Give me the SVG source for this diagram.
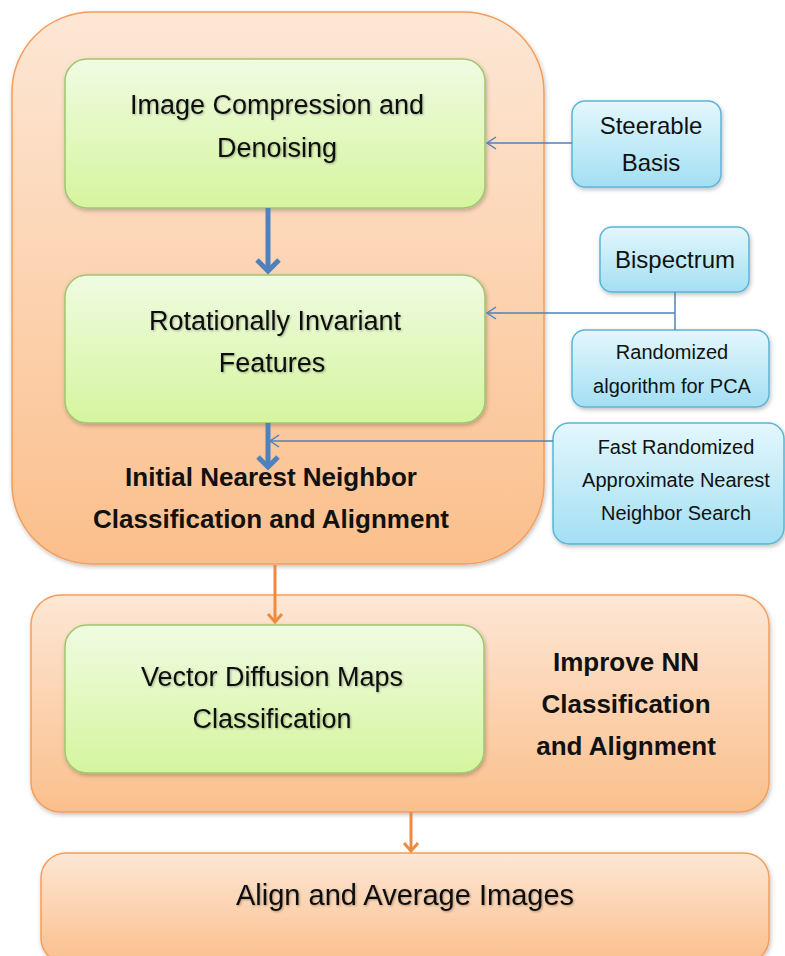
<svg xmlns="http://www.w3.org/2000/svg" width="785" height="956" viewBox="0 0 785 956">
<defs>
<linearGradient id="gOr" x1="0" y1="0" x2="0" y2="1"><stop offset="0" stop-color="#fde7d5"/><stop offset="1" stop-color="#fbbf8c"/></linearGradient>
<linearGradient id="gGr" x1="0" y1="0" x2="0" y2="1"><stop offset="0" stop-color="#f0fbe2"/><stop offset="1" stop-color="#d5f59e"/></linearGradient>
<linearGradient id="gBl" x1="0" y1="0" x2="0" y2="1"><stop offset="0" stop-color="#e4f7fd"/><stop offset="1" stop-color="#a3dff3"/></linearGradient>
<filter id="sh" x="-10%" y="-10%" width="120%" height="130%"><feDropShadow dx="1" dy="2" stdDeviation="2" flood-color="#000" flood-opacity="0.25"/></filter>
<filter id="tsh" x="-5%" y="-20%" width="110%" height="150%"><feDropShadow dx="1" dy="1" stdDeviation="0.8" flood-color="#000" flood-opacity="0.3"/></filter>
<marker id="mThin" markerWidth="14" markerHeight="14" refX="10" refY="7" orient="auto" markerUnits="userSpaceOnUse"><path d="M1,1 L10,7 L1,13" fill="none" stroke="#4f81bd" stroke-width="1.5"/></marker>
</defs>
<style>
.or{fill:url(#gOr);stroke:#f59d5b;stroke-width:1.5;filter:url(#sh)}
.gr{fill:url(#gGr);stroke:#9fc66f;stroke-width:1.5;filter:url(#sh)}
.bl{fill:url(#gBl);stroke:#5ab5d6;stroke-width:1.5;filter:url(#sh)}
text{font-family:"Liberation Sans",Arial,sans-serif;fill:#111;text-anchor:middle}
.t27{font-size:27px;filter:url(#tsh)}
.b26{font-size:26px;font-weight:bold}
.s24{font-size:24px}
.s20{font-size:20px}
.thin{fill:none;stroke:#4f81bd;stroke-width:1.5}
.thick{fill:none;stroke:#4f81bd;stroke-width:5}
.orl{fill:none;stroke:#f08a3c;stroke-width:3}
</style>

<g id="outer1">
<rect class="or" x="12" y="12" width="532" height="552" rx="80"/>
<text class="b26" x="271" y="486">Initial Nearest Neighbor</text>
<text class="b26" x="271" y="528">Classification and Alignment</text>
</g>
<g id="outer2">
<rect class="or" x="31" y="595" width="738" height="217" rx="30"/>
<text class="b26" x="626" y="671">Improve NN</text>
<text class="b26" x="626" y="713">Classification</text>
<text class="b26" x="626" y="755">and Alignment</text>
</g>
<g id="align">
<rect class="or" x="41" y="853" width="728" height="110" rx="25"/>
<text class="t27" style="font-size:29px" x="405" y="905">Align and Average Images</text>
</g>
<g id="compress">
<rect class="gr" x="65" y="59" width="420" height="149" rx="22"/>
<text class="t27" x="277" y="114">Image Compression and</text>
<text class="t27" x="277" y="157">Denoising</text>
</g>
<g id="rotinv">
<rect class="gr" x="65" y="275" width="420" height="148" rx="22"/>
<text class="t27" x="275" y="330">Rotationally Invariant</text>
<text class="t27" x="272" y="372">Features</text>
</g>
<g id="vdm">
<rect class="gr" x="65" y="625" width="419" height="148" rx="22"/>
<text class="t27" x="272" y="686">Vector Diffusion Maps</text>
<text class="t27" x="272" y="728">Classification</text>
</g>
<g id="steerable">
<rect class="bl" x="572" y="101" width="149" height="86" rx="13"/>
<text class="s24" x="651" y="134">Steerable</text>
<text class="s24" x="651" y="171">Basis</text>
</g>
<g id="bispectrum">
<rect class="bl" x="600" y="227" width="149" height="65" rx="12"/>
<text class="s24" x="675" y="268">Bispectrum</text>
</g>
<g id="randpca">
<rect class="bl" x="572" y="330" width="197" height="77" rx="13"/>
<text class="s20" x="672" y="359">Randomized</text>
<text class="s20" x="672" y="393">algorithm for PCA</text>
</g>
<g id="fastnn">
<rect class="bl" x="553" y="423" width="231" height="121" rx="16"/>
<text class="s20" x="676" y="454">Fast Randomized</text>
<text class="s20" x="676" y="487">Approximate Nearest</text>
<text class="s20" x="676" y="520">Neighbor Search</text>
</g>

<g id="connectors">
<line class="thin" x1="572" y1="143" x2="487" y2="143" marker-end="url(#mThin)"/>
<polyline class="thin" points="675,292 675,330"/>
<line class="thin" x1="675" y1="313" x2="487" y2="313" marker-end="url(#mThin)"/>
<line class="thin" x1="553" y1="441" x2="270" y2="441" marker-end="url(#mThin)"/>
<line class="thick" x1="268" y1="208" x2="268" y2="271"/>
<polyline class="thick" points="257,260 268,271 279,260"/>
<line class="thick" x1="268" y1="423" x2="268" y2="466"/>
<polyline class="thick" points="258,457 268,467 278,457"/>
<line class="orl" x1="275" y1="565" x2="275" y2="622"/>
<polyline class="orl" points="268,614 275,622 282,614"/>
<line class="orl" x1="411" y1="812" x2="411" y2="851"/>
<polyline class="orl" points="404,843 411,851 418,843"/>
</g>
</svg>
